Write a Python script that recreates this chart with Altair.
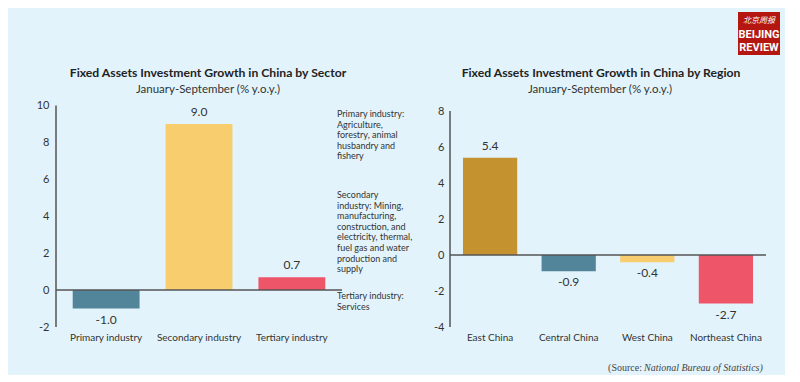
import altair as alt
import pandas as pd

# ---------------- data ----------------
sectors = ["Primary industry", "Secondary industry", "Tertiary industry"]
sector_growth = [-1.0, 9.0, 0.7]
sector_colors = ["#52849A", "#F7CD6D", "#EF5569"]
sector_ticks = [-2, 0, 2, 4, 6, 8, 10]

regions = ["East China", "Central China", "West China", "Northeast China"]
region_growth = [5.4, -0.9, -0.4, -2.7]
region_colors = ["#C4922E", "#52849A", "#F7CD6D", "#EF5569"]
region_ticks = [-4, -2, 0, 2, 4, 6, 8]

title_sector = "Fixed Assets Investment Growth in China by Sector"
title_region = "Fixed Assets Investment Growth in China by Region"
subtitle = "January-September (% y.o.y.)"

note_primary = ["Primary industry:", "Agriculture,", "forestry, animal", "husbandry and", "fishery"]
note_secondary = ["Secondary", "industry: Mining,", "manufacturing,", "construction, and",
                  "electricity, thermal,", "fuel gas and water", "production and", "supply"]
note_tertiary = ["Tertiary industry:", "Services"]

df_s = pd.DataFrame({"cat": sectors, "val": sector_growth,
                     "lbl": [f"{v:.1f}" for v in sector_growth]})
df_r = pd.DataFrame({"cat": regions, "val": region_growth,
                     "lbl": [f"{v:.1f}" for v in region_growth]})

FONT = "Lato"
TXT = "#333333"
AXC = "#555555"
H = 227
WL = 286
WR = 316
one = pd.DataFrame({"k": [0]})


def label(text, x, y, size, weight="normal", align="center", color=TXT, font=FONT,
          style="normal", baseline="alphabetic"):
    return alt.Chart(one).mark_text(
        align=align, baseline=baseline, fontSize=size, font=font, fontWeight=weight,
        fontStyle=style, color=color
    ).encode(x=alt.value(x), y=alt.value(y), text=alt.value(text))


def panel(df, cats, colors, ticks, ymin, ymax, width, pin, pout, lpad, title, tx, sx):
    base = alt.Chart(df)
    xscale = alt.Scale(domain=cats, paddingInner=pin, paddingOuter=pout)
    xaxis = alt.Axis(title=None, domain=False, ticks=False, labelAngle=0,
                     labelPadding=5, labelFontSize=10, labelColor=TXT,
                     labelFont=FONT)
    yscale = alt.Scale(domain=[ymin, ymax], nice=False, zero=False)
    yaxis = alt.Axis(title=None, values=ticks, domain=False, ticks=False,
                     grid=False, labelPadding=lpad, labelFontSize=11,
                     labelColor=TXT, labelFont=FONT, labelOverlap=False,
                     labelExpr="toString(datum.value)")
    x = alt.X("cat:N", sort=cats, scale=xscale, axis=xaxis)
    y = alt.Y("val:Q", scale=yscale, axis=yaxis)
    bars = base.mark_bar().encode(
        x=x, y=y, y2=alt.datum(0),
        color=alt.Color("cat:N", scale=alt.Scale(domain=cats, range=colors), legend=None),
    )
    pos = base.transform_filter("datum.val >= 0").mark_text(
        baseline="bottom", dy=-5, fontSize=12, font=FONT, color=TXT
    ).encode(x=x, y=y, text="lbl:N")
    neg = base.transform_filter("datum.val < 0").mark_text(
        baseline="top", dy=6, fontSize=12, font=FONT, color=TXT
    ).encode(x=x, y=y, text="lbl:N")
    yaxis_line = alt.Chart(one).mark_rule(color=AXC, strokeWidth=1.5).encode(
        x=alt.value(0), y=alt.Y(datum=ticks[0], scale=yscale, axis=yaxis),
        y2=alt.datum(ticks[-1]))
    zero_line = alt.Chart(one).mark_rule(color=AXC, strokeWidth=1.5).encode(
        x=alt.value(0), x2=alt.value(width),
        y=alt.Y(datum=0, scale=yscale, axis=yaxis))
    t1 = label(title, tx, -23, 12.2, weight="bold", color="#222222")
    t2 = label(subtitle, sx, -7, 11.5)
    return [bars, zero_line, yaxis_line, pos, neg, t1, t2]


# ---------------- left panel ----------------
l_layers = panel(df_s, sectors, sector_colors, sector_ticks, -2, -2 + H / 18.45,
                 WL, 0.28, 0.18, 7, title_sector, 152, 152)


def note(lines, ytop):
    return alt.Chart(one).mark_text(
        align="left", baseline="top", fontSize=9, font=FONT, color=TXT, lineHeight=10.6
    ).encode(x=alt.value(281), y=alt.value(ytop), text=alt.value(lines))


left = alt.layer(*l_layers, note(note_primary, 10), note(note_secondary, 91),
                 note(note_tertiary, 192)).properties(width=WL, height=H)

# ---------------- right panel ----------------
r_layers = panel(df_r, regions, region_colors, region_ticks, -4, -4 + H / 18.0,
                 WR, 0.31, 0.165, 6, title_region, 151, 150)

src1 = label("(Source:", 192, 271, 10, align="right", font="Liberation Serif",
             color="#444444")
src2 = label("National Bureau of Statistics)", 194, 271, 10, align="left",
             font="Liberation Serif", color="#444444", style="italic")

logo_box = alt.Chart(one).mark_rect(color="#B3170F").encode(
    x=alt.value(288), x2=alt.value(330), y=alt.value(-88), y2=alt.value(-45))
logo_cn = label("北京周报", 309, -77, 8, font="Noto Sans CJK SC", color="white",
                style="italic")
logo_en1 = label("BEIJING", 309, -62, 11, weight="bold", font="Roboto", color="white")
logo_en2 = label("REVIEW", 309, -49, 11, weight="bold", font="Roboto", color="white")

right = alt.layer(*r_layers, src1, src2, logo_box, logo_cn, logo_en1, logo_en2).properties(
    width=WR, height=H)

chart = alt.hconcat(left, right, spacing=108, bounds="flush").resolve_scale(
    x="independent", y="independent", color="independent"
).properties(
    padding={"left": 28, "top": 4, "right": 5, "bottom": 2},
    background="#E2F3FB",
).configure_view(stroke=None).configure_axis(labelOverlap=False)

chart.save("out.html", embed_options={"renderer": "svg", "actions": False})
